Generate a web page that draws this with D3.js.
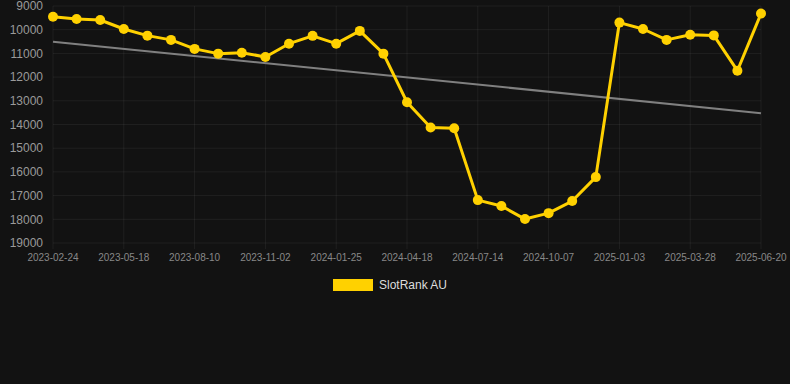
<!DOCTYPE html>
<html>
<head>
<meta charset="utf-8">
<script src="https://cdn.jsdelivr.net/npm/d3@7"></script>
<style>
  body { margin: 0; background: #121212; }
  svg { display: block; font-family: "Liberation Sans", Arial, sans-serif; }
</style>
</head>
<body>
<svg width="790" height="384"></svg>
<script>
const dates = [
    "2023-02-24", "2023-03-24", "2023-04-21", "2023-05-18", "2023-06-15", "2023-07-13",
    "2023-08-10", "2023-09-07", "2023-10-05", "2023-11-02", "2023-11-30", "2023-12-28",
    "2024-01-25", "2024-02-22", "2024-03-21", "2024-04-18", "2024-05-17", "2024-06-15",
    "2024-07-14", "2024-08-11", "2024-09-09", "2024-10-07", "2024-11-05", "2024-12-05",
    "2025-01-03", "2025-01-31", "2025-02-28", "2025-03-28", "2025-04-25", "2025-05-23",
    "2025-06-20"
];
const ranks = [
    9450, 9550, 9590, 9970, 10250, 10430, 10810, 11010, 10970, 11150,
    10590, 10260, 10590, 10050, 11010, 13060, 14130, 14160, 17190, 17440,
    17990, 17740, 17230, 16220, 9700, 9970, 10430, 10210, 10240, 11730,
    9320
];
const yTicks = [9000, 10000, 11000, 12000, 13000, 14000, 15000, 16000, 17000, 18000, 19000];
const seriesName = "SlotRank AU";

const svg = d3.select("svg");
const margin = { top: 6, right: 29, bottom: 141, left: 53 };
const width = +svg.attr("width") - margin.left - margin.right;
const height = +svg.attr("height") - margin.top - margin.bottom;
const g = svg.append("g").attr("transform", `translate(${margin.left},${margin.top})`);

const x = d3.scalePoint().domain(dates).range([0, width]);
const y = d3.scaleLinear().domain([9000, 19000]).range([0, height]);

const tickDates = dates.filter((d, i) => i % 3 === 0);

// grid
g.append("g").selectAll("line").data(yTicks).join("line")
    .attr("x1", 0).attr("x2", width)
    .attr("y1", d => y(d)).attr("y2", d => y(d))
    .attr("stroke", "rgba(255,255,255,0.06)");
g.append("g").selectAll("line").data(tickDates).join("line")
    .attr("x1", d => x(d)).attr("x2", d => x(d))
    .attr("y1", 0).attr("y2", height + 6)
    .attr("stroke", "rgba(255,255,255,0.06)");

// y labels
g.append("g").selectAll("text").data(yTicks).join("text")
    .attr("x", -10).attr("y", d => y(d)).attr("dy", "0.35em")
    .attr("text-anchor", "end")
    .attr("fill", "#9a9a9a").attr("font-size", 12)
    .text(d => d);

// x labels
g.append("g").selectAll("text").data(tickDates).join("text")
    .attr("x", d => x(d)).attr("y", height + 18)
    .attr("text-anchor", "middle")
    .attr("fill", "#888").attr("font-size", 10)
    .text(d => d);

// linear regression trend
const n = ranks.length;
const xm = d3.mean(ranks, (d, i) => i);
const ym = d3.mean(ranks);
const slope = d3.sum(ranks, (d, i) => (i - xm) * (d - ym)) / d3.sum(ranks, (d, i) => (i - xm) ** 2);
const trend = [0, n - 1].map(i => [dates[i], ym + slope * (i - xm)]);
g.append("path")
    .attr("d", d3.line().x(d => x(d[0])).y(d => y(d[1]))(trend))
    .attr("fill", "none").attr("stroke", "#808080").attr("stroke-width", 2);

// series
const data = dates.map((d, i) => ({ date: d, value: ranks[i] }));
g.append("path")
    .datum(data)
    .attr("d", d3.line().x(d => x(d.date)).y(d => y(d.value)))
    .attr("fill", "none").attr("stroke", "#FFD100").attr("stroke-width", 3)
    .attr("stroke-linejoin", "round");
g.append("g").selectAll("circle").data(data).join("circle")
    .attr("cx", d => x(d.date)).attr("cy", d => y(d.value))
    .attr("r", 5).attr("fill", "#FFD100");

// legend
const legend = svg.append("g").attr("transform", "translate(333,279)");
legend.append("rect").attr("width", 40).attr("height", 12).attr("fill", "#FFD100");
legend.append("text").attr("x", 46).attr("y", 6).attr("dy", "0.35em")
    .attr("fill", "#ddd").attr("font-size", 12).text(seriesName);
</script>
</body>
</html>
